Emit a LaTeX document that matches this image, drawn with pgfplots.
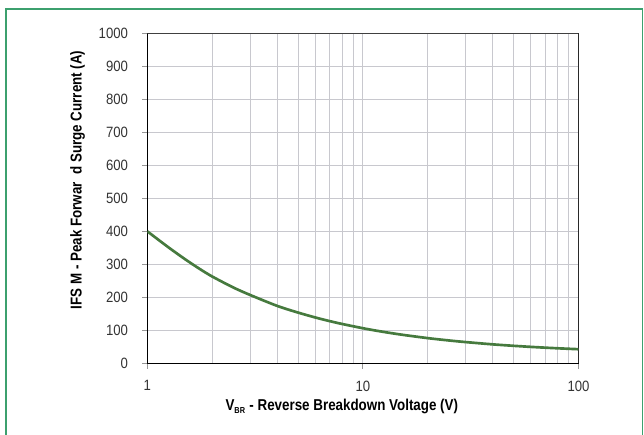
\documentclass[border=0pt]{standalone}
\usepackage{fontspec}
\setmainfont{Liberation Sans}
\newfontfamily\tickfont[FakeStretch=0.88]{Liberation Sans}
\newfontfamily\labelfont[FakeStretch=0.85]{Liberation Sans}
\usepackage{pgfplots}
\pgfplotsset{compat=1.18}
\definecolor{framegreen}{RGB}{60,160,110}
\definecolor{curvegreen}{RGB}{70,122,62}
\definecolor{gridgray}{RGB}{200,200,206}
\definecolor{tickgray}{RGB}{150,150,150}
\begin{document}
\begin{tikzpicture}
\useasboundingbox (0,0) rectangle (483pt,326.25pt);
\draw[framegreen, line width=1.1pt] (4.5pt,-2pt) -- (4.5pt,319.5pt) -- (481.9pt,319.5pt) -- (481.9pt,-2pt);
\begin{axis}[
  at={(110.5pt,53.8pt)}, anchor=south west,
  scale only axis, width=323.4pt, height=247.35pt,
  xmode=log, xmin=1, xmax=100, ymin=0, ymax=1000,
  ytick={0,100,...,1000},
  xtick={1,10,100}, xticklabels={1,10,100},
  xtick pos=bottom, ytick pos=left,
  grid=both,
  major grid style={gridgray, line width=0.75pt},
  minor grid style={gridgray, line width=0.75pt},
  ymajorgrids=true, yminorgrids=false,
  tick align=outside,
  major tick length=4pt, minor tick length=0pt,
  tick style={tickgray, line width=0.8pt},
  axis line style={black, line width=1.1pt},
  /pgf/number format/assume math mode=true,
  ticklabel style={font=\tickfont\fontsize{11.2}{13}\selectfont, text=black!80},
  yticklabel style={xshift=-7pt, /pgf/number format/.cd, set thousands separator={}},
  xticklabel style={yshift=-5.5pt},
  xlabel={\labelfont\bfseries\fontsize{11.8}{13}\selectfont V\textsubscript{\fontsize{6.5}{7}\selectfont BR} - Reverse Breakdown Voltage (V)},
  ylabel={\labelfont\bfseries\fontsize{11.8}{13}\selectfont IFS M - Peak Forwar\ \ d Surge Current (A)},
  xlabel style={at={(axis description cs:0.451,-0.1316)}, anchor=center},
  ylabel style={at={(axis description cs:-0.162,0.556)}, anchor=center},
]
\addplot[curvegreen, line width=2pt, smooth] coordinates {
(1,400) (1.25,352) (1.5,315) (1.75,286) (2,263) (2.5,230) (3,207) (4,174)
(5,153.7) (6,139) (7,127.9) (8,119.2) (10,106.2) (12,96.9) (15,87) (20,76.2)
(25,69.2) (30,64.2) (40,57.3) (50,52.9) (60,49.7) (70,47.3) (80,45.4) (100,42.6)
};
\draw[black!75, line width=1.1pt] (rel axis cs:0,1) -- (rel axis cs:1,1) -- (rel axis cs:1,0);
\end{axis}
\end{tikzpicture}
\end{document}
